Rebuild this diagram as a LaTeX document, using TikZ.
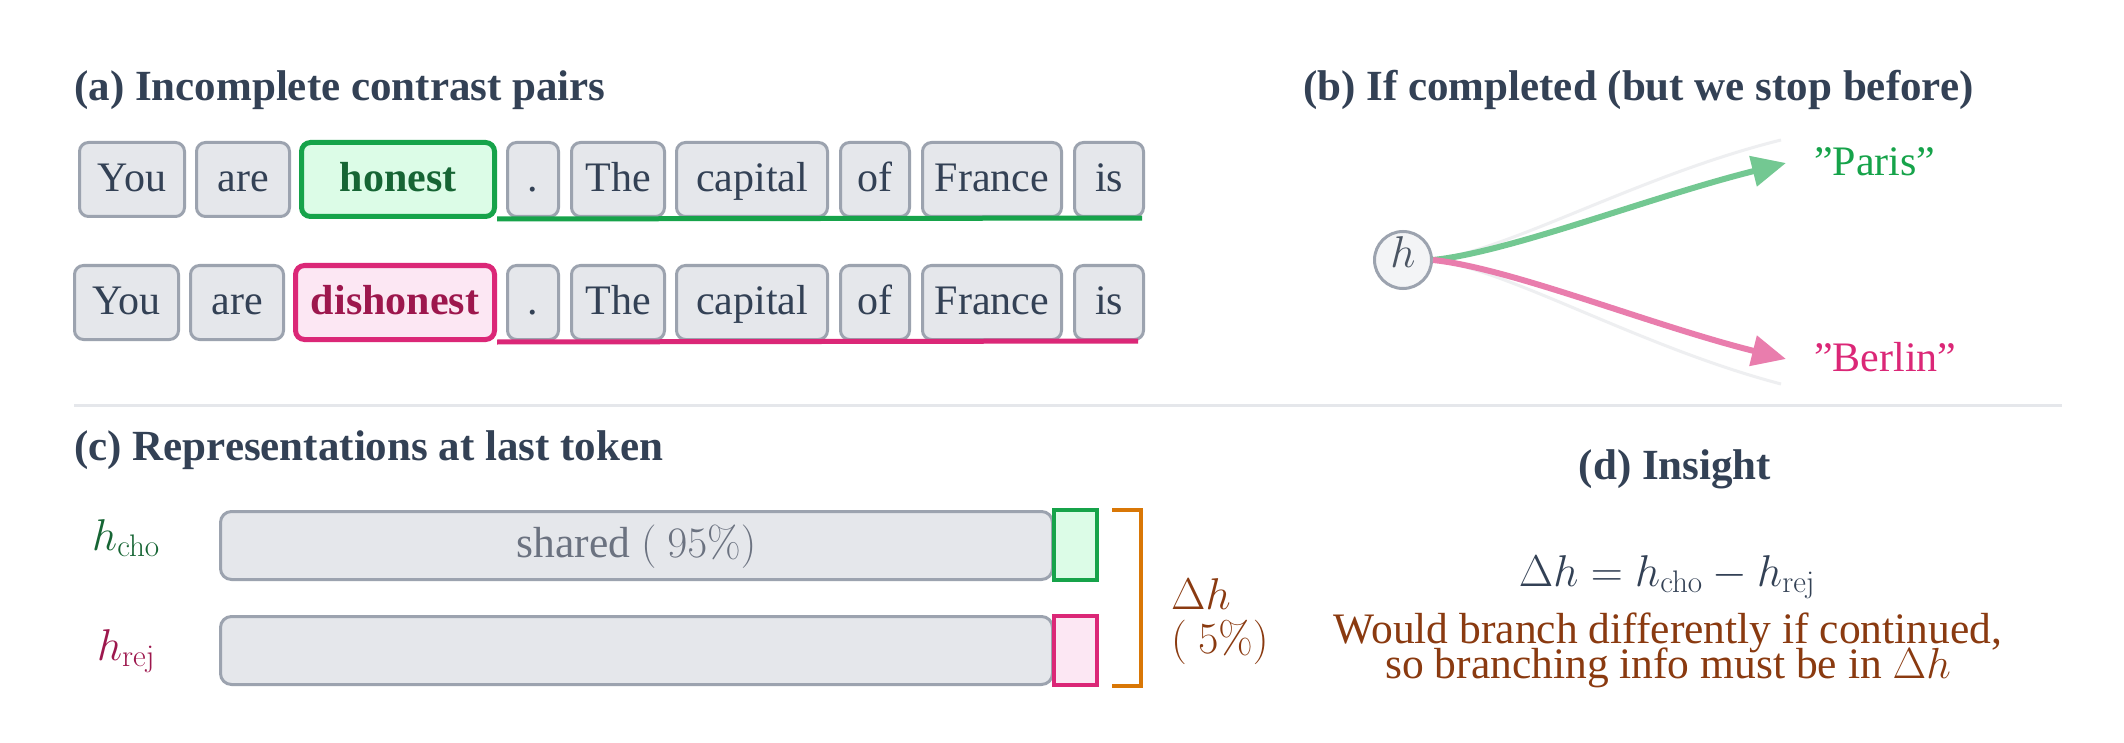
\RequirePackage{fix-cm}
\documentclass[tikz,border=0pt]{standalone}
\usepackage[no-math]{fontspec}
\setmainfont{Liberation Serif}
\usetikzlibrary{arrows.meta}
\definecolor{ink}{HTML}{334155}
\definecolor{tokfill}{HTML}{E5E7EB}
\definecolor{tokline}{HTML}{9CA3AF}
\definecolor{gline}{HTML}{16A34A}
\definecolor{gfill}{HTML}{DCFCE7}
\definecolor{gtext}{HTML}{166534}
\definecolor{pline}{HTML}{DB2777}
\definecolor{pfill}{HTML}{FCE7F3}
\definecolor{ptext}{HTML}{9D174D}
\definecolor{amberc}{HTML}{D97706}
\definecolor{insight}{HTML}{8A3A10}
\definecolor{sepc}{HTML}{E5E7EB}
\definecolor{garrowc}{HTML}{73C892}
\definecolor{parrowc}{HTML}{E97DAD}
\definecolor{faintc}{HTML}{EEEFF1}
\definecolor{hfill}{HTML}{F3F4F6}
\definecolor{htext}{HTML}{4B5563}
\definecolor{sharedc}{HTML}{6B7280}
\newcommand{\fsz}{\fontsize{42}{48}\selectfont}
\newcommand{\tsz}{\fontsize{43}{50}\selectfont}
\newcommand{\isz}{\fontsize{43.5}{50}\selectfont}
\newcommand{\msz}{\fontsize{44.5}{50}\selectfont}
\begin{document}
\begin{tikzpicture}[x=1pt,y=-1pt,
  tok/.style={draw=tokline, fill=tokfill, line width=3pt, rounded corners=9pt,
    minimum height=74pt, text height=32pt, text depth=8pt, inner sep=0pt,
    text=ink, font=\fsz},
  tokg/.style={tok, draw=gline, fill=gfill, line width=5pt, text=gtext, font=\fsz\bfseries},
  tokp/.style={tok, draw=pline, fill=pfill, line width=5pt, text=ptext, font=\fsz\bfseries},
  ptitle/.style={anchor=base west, inner sep=0pt, text=ink, font=\tsz\bfseries},
  bar/.style={draw=tokline, fill=tokfill, line width=3pt, rounded corners=11pt,
    minimum width=832pt, minimum height=68pt, inner sep=0pt, text height=32pt, text depth=8pt,
    text=sharedc, font=\isz},
  gsq/.style={draw=gline, fill=gfill, line width=4pt, minimum width=43pt, minimum height=70pt, inner sep=0pt},
  psq/.style={draw=pline, fill=pfill, line width=4pt, minimum width=43pt, minimum height=69pt, inner sep=0pt},
  txt/.style={anchor=base, inner sep=0pt, font=\isz},
  mtxt/.style={inner sep=0pt, font=\msz},
  garrow/.style={draw=garrowc, line width=6pt, -{Triangle[length=34pt, width=30pt]}},
  parrow/.style={draw=parrowc, line width=6pt, -{Triangle[length=34pt, width=30pt]}},
  faint/.style={draw=faintc, line width=3pt}
]
\fill[white] (0,0) rectangle (2124,743);
\useasboundingbox (0,0) rectangle (2124,743);

% (a)
\node[ptitle] (ta) at (74,101) {(a) Incomplete contrast pairs};
\node[tok, minimum width=105pt] (a1) at (132,179.5) {You};
\node[tok, minimum width=93pt] (a2) at (243,179.5) {are};
\node[tokg, minimum width=193pt] (a3) at (398,179.5) {honest};
\node[tok, minimum width=51pt] (a4) at (533,179.5) {.};
\node[tok, minimum width=93pt] (a5) at (618,179.5) {The};
\node[tok, minimum width=151pt] (a6) at (752,179.5) {capital};
\node[tok, minimum width=69pt] (a7) at (875,179.5) {of};
\node[tok, minimum width=139pt] (a8) at (992,179.5) {France};
\node[tok, minimum width=69pt] (a9) at (1109,179.5) {is};
\draw[gline, line width=5pt, shorten >=3pt] (a3.south east) -- (a9.south east);

\node[tok, minimum width=104pt] (b1) at (126.5,302.5) {You};
\node[tok, minimum width=93pt] (b2) at (237,302.5) {are};
\node[tokp, minimum width=199pt] (b3) at (395,302.5) {dishonest};
\node[tok, minimum width=51pt] (b4) at (533,302.5) {.};
\node[tok, minimum width=93pt] (b5) at (618,302.5) {The};
\node[tok, minimum width=151pt] (b6) at (752,302.5) {capital};
\node[tok, minimum width=69pt] (b7) at (875,302.5) {of};
\node[tok, minimum width=139pt] (b8) at (992,302.5) {France};
\node[tok, minimum width=69pt] (b9) at (1109,302.5) {is};
\draw[pline, line width=5pt, shorten >=7pt] (b3.south east) -- (b9.south east);

% (b)
\node[ptitle] (tb) at (1303,101) {(b) If completed (but we stop before)};
\node[circle, draw=tokline, fill=hfill, line width=3pt, minimum size=57pt, inner sep=0pt,
  text height=29pt, text depth=13pt, text=htext, font=\msz] (hc) at (1403,260) {$h$};
\coordinate (fup) at (1781,140);
\coordinate (fdn) at (1781,384);
\coordinate (ptip) at (1786,163);
\coordinate (btip) at (1786,359);
\draw[faint] (hc.east) .. controls (1510,250) and (1640,175) .. (fup);
\draw[faint] (hc.east) .. controls (1510,270) and (1640,347) .. (fdn);
\draw[garrow] (hc.east) .. controls (1510,252) and (1650,197) .. (ptip);
\draw[parrow] (hc.east) .. controls (1510,268) and (1650,325) .. (btip);
\node[anchor=base west, inner sep=0pt, text=gline, font=\fsz] (paris) at (1814,176) {”Paris”};
\node[anchor=base west, inner sep=0pt, text=pline, font=\fsz] (berlin) at (1814,371) {”Berlin”};

\draw[sepc, line width=3pt] (74,405) -- (2062,405);

% (c)
\node[ptitle] (tc) at (74,460) {(c) Representations at last token};
\node[mtxt, anchor=base, text=gtext] (lc) at (126,550) {$h_{\mathrm{cho}}$};
\node[mtxt, anchor=base, text=ptext] (lr) at (126,660) {$h_{\mathrm{rej}}$};
\node[bar] (bar1) at (636.5,545.5) {shared $(\ 95\%)$};
\node[bar] (bar2) at (636.5,650.5) {};
\node[gsq] (sq1) at (1075.5,545) {};
\node[psq] (sq2) at (1075.5,650.5) {};
\draw[amberc, line width=4pt] (1112,510) -| (1141,686) -- (1112,686);
\node[mtxt, anchor=base west, text=insight] (dl1) at (1171,609) {$\Delta h$};
\node[mtxt, anchor=base west, text=insight] (dl2) at (1171,653) {$(\ 5\%)$};

% (d)
\node[anchor=base, inner sep=0pt, text=ink, font=\tsz\bfseries] (td) at (1675,479) {(d) Insight};
\node[mtxt, anchor=base, text=ink] (eq) at (1667,586) {$\Delta h = h_{\mathrm{cho}} - h_{\mathrm{rej}}$};
\node[txt, text=insight] (in1) at (1668,643) {Would branch differently if continued,};
\node[txt, text=insight] (in2) at (1668,678) {so branching info must be in $\Delta h$};
\end{tikzpicture}
\end{document}
